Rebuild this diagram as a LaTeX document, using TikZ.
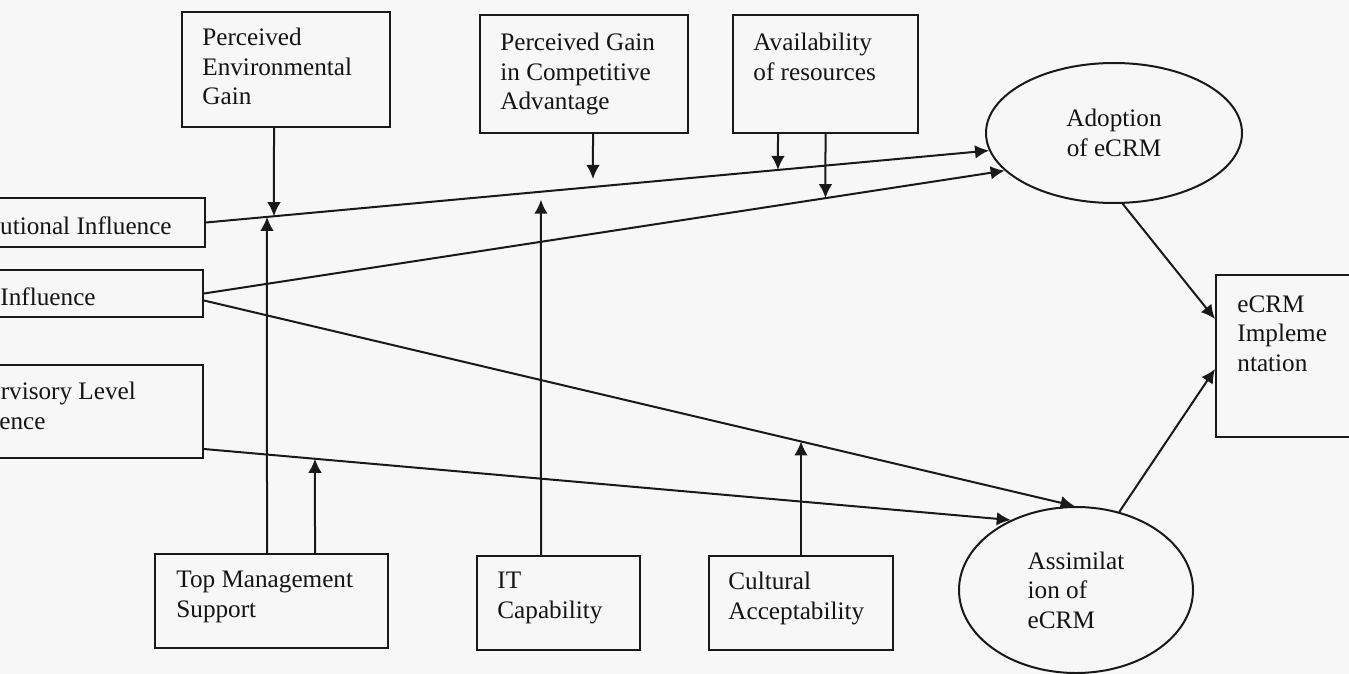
\documentclass[tikz,border=0pt]{standalone}
\usepackage{fontspec}
\setmainfont{Liberation Serif}
\usetikzlibrary{shapes.geometric,arrows.meta}
\newcommand\diagfont{\fontsize{12.6pt}{14.75pt}\selectfont}
\begin{document}
\begin{tikzpicture}[x=0.5pt,y=-0.5pt,
  ink/.style={draw=black!90, line width=1pt},
  box/.style={ink, rectangle, inner sep=0pt},
  oval/.style={ink, ellipse, inner sep=0pt, font=\diagfont, text=black!92},
  lbl/.style={inner sep=0pt, anchor=north west, align=left, font=\diagfont, text=black!92},
  arr/.style={ink, -{Latex[length=7pt,width=6.8pt]}}
]
\useasboundingbox (0,0) rectangle (1349,674);
\fill[black!3] (0,0) rectangle (1349,674);
\clip (0,0) rectangle (1349,674);

% boxes
\node[box, minimum width=104pt, minimum height=57.5pt] (peg) at (286,69.5) {};
\node[box, minimum width=104pt, minimum height=59pt] (pgca) at (584,74) {};
\node[box, minimum width=92.5pt, minimum height=59pt] (avail) at (825.5,74) {};
\node[box, minimum width=138.5pt, minimum height=24.5pt] (inst) at (66.5,222.5) {};
\node[box, minimum width=137pt, minimum height=23.5pt] (peer) at (66,293.5) {};
\node[box, minimum width=136.5pt, minimum height=46.5pt] (sup) at (66.5,411.5) {};
\node[box, minimum width=102pt, minimum height=81pt] (ecrm) at (1318,356) {};
\node[box, minimum width=116.5pt, minimum height=47pt] (tms) at (271.5,601) {};
\node[box, minimum width=81.5pt, minimum height=47pt] (itc) at (558.5,603) {};
\node[box, minimum width=92pt, minimum height=47pt] (cult) at (801,603) {};
\node[oval, minimum width=128pt, minimum height=70pt, align=center] (adopt) at (1114,133) {Adoption\\of eCRM};
\node[oval, minimum width=117pt, minimum height=83pt, align=left] (assim) at (1076,590) {Assimilat\\ion of\\eCRM};

% labels
\node[lbl] (pegT) at (202,28) {Perceived\\Environmental\\Gain};
\node[lbl] (pgcaT) at (500,33) {Perceived Gain\\in Competitive\\Advantage};
\node[lbl] (availT) at (753,33) {Availability\\of resources};
\node[lbl] (instT) at (-52,216) {Institutional Influence};
\node[lbl] (peerT) at (-51,287) {Peer Influence};
\node[lbl] (supT) at (-50,382) {Supervisory Level\\Influence};
\node[lbl] (ecrmT) at (1237,295) {eCRM\\Impleme\\ntation};
\node[lbl] (tmsT) at (176,571) {Top Management\\Support};
\node[lbl] (itcT) at (497,572) {IT\\Capability};
\node[lbl] (cultT) at (728,572) {Cultural\\Acceptability};

% main connectors
\coordinate (instA) at (adopt.188);
\coordinate (peerA) at (adopt.199);
\coordinate (peerS) at ([yshift=-3.5pt]peer.east);
\coordinate (supS) at ([yshift=5pt]sup.south east);
\coordinate (assimP) at (assim.91);
\coordinate (assimS) at (assim.133);
\coordinate (ecrmA) at ([yshift=-22.5pt]ecrm.north west);
\coordinate (ecrmB) at ([yshift=-47.5pt]ecrm.north west);

\draw[arr] (inst.east) -- (instA);
\draw[arr] (peer.east) -- (peerA);
\draw[arr] (peerS) -- (assimP);
\draw[arr] (supS) -- (assimS);
\draw[arr] (adopt.-83) -- (ecrmA);
\draw[arr] (assim.61) -- (ecrmB);

% vertical connectors
\coordinate (pegD) at ([xshift=-6pt]peg.south);
\coordinate (pegD2) at ([yshift=-100pt]pegD);
\coordinate (tmsU1) at ([xshift=-2.25pt]tms.north);
\coordinate (tmsU1b) at ([yshift=100pt]tmsU1);
\coordinate (tmsU2) at ([xshift=21.75pt]tms.north);
\coordinate (tmsU2b) at ([yshift=100pt]tmsU2);
\coordinate (pgcaD) at ([xshift=4.5pt]pgca.south);
\coordinate (pgcaD2) at ([yshift=-100pt]pgcaD);
\coordinate (itcU) at ([xshift=-8.75pt]itc.north);
\coordinate (itcU2) at ([yshift=100pt]itcU);
\coordinate (avD1) at ([xshift=-23.75pt]avail.south);
\coordinate (avD1b) at ([yshift=-100pt]avD1);
\coordinate (avD2) at (avail.south);
\coordinate (avD2b) at ([yshift=-100pt]avD2);
\coordinate (cultU) at (cult.north);
\coordinate (cultU2) at ([yshift=100pt]cultU);
\coordinate (instE) at (inst.east);
\coordinate (peerE) at (peer.east);

\coordinate (j1) at (intersection of pegD--pegD2 and instE--instA);
\coordinate (j2) at (intersection of tmsU1--tmsU1b and instE--instA);
\coordinate (j3) at (intersection of tmsU2--tmsU2b and supS--assimS);
\coordinate (j4) at (intersection of pgcaD--pgcaD2 and instE--instA);
\coordinate (j5) at (intersection of itcU--itcU2 and instE--instA);
\coordinate (j6) at (intersection of avD1--avD1b and instE--instA);
\coordinate (j7) at (intersection of avD2--avD2b and peerE--peerA);
\coordinate (j8) at (intersection of cultU--cultU2 and peerS--assimP);

\draw[arr] (pegD) -- (j1);
\draw[arr] (tmsU1) -- (j2);
\draw[arr] (tmsU2) -- (j3);
\draw[arr, shorten >=4pt] (pgcaD) -- (j4);
\draw[arr, shorten >=4pt] (itcU) -- (j5);
\draw[arr] (avD1) -- (j6);
\draw[arr] (avD2) -- (j7);
\draw[arr] (cultU) -- (j8);
\end{tikzpicture}
\end{document}
